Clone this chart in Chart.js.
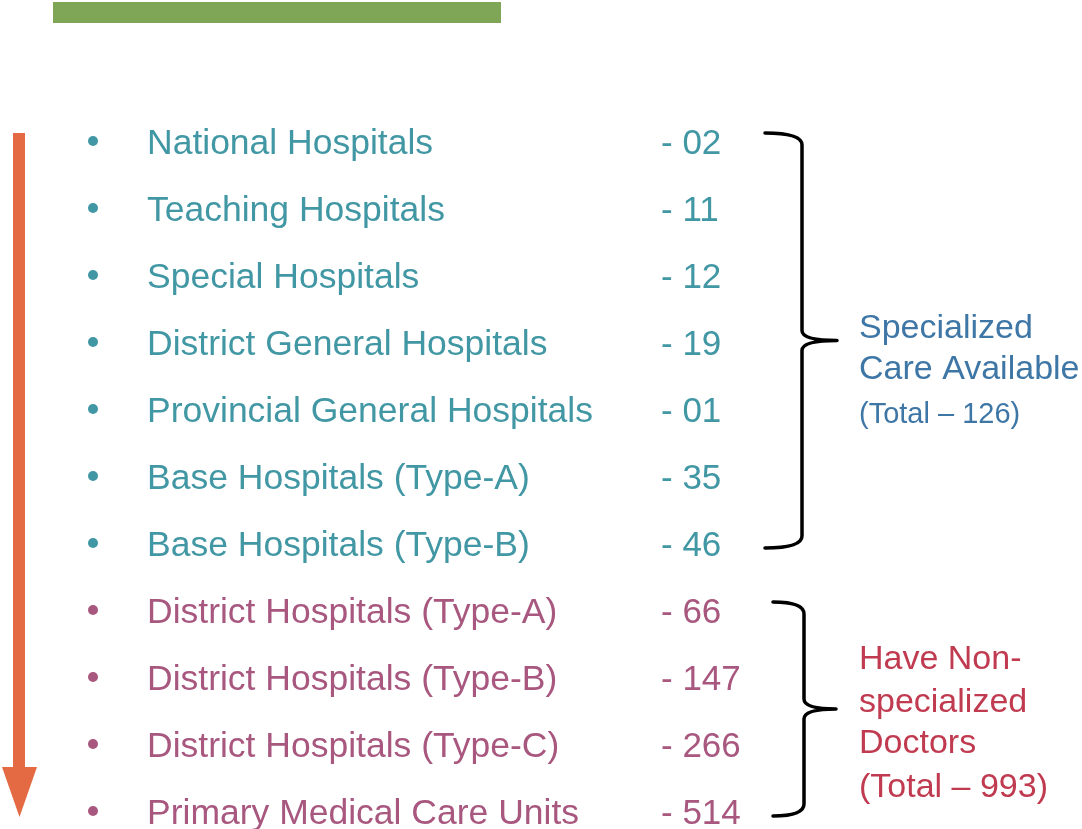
<!DOCTYPE html>
<html>
<head>
<meta charset="utf-8">
<script src="https://cdn.jsdelivr.net/npm/chart.js@4.4.1/dist/chart.umd.min.js"></script>
<style>
  html, body { margin: 0; padding: 0; background: #ffffff; }
  #wrap { width: 1082px; height: 829px; }
</style>
</head>
<body>
<div id="wrap"><canvas id="hospitalChart" width="1082" height="829"></canvas></div>
<script>
// categories (top to bottom) and their counts
const categories = [
  "National Hospitals",
  "Teaching Hospitals",
  "Special Hospitals",
  "District General Hospitals",
  "Provincial General Hospitals",
  "Base Hospitals (Type-A)",
  "Base Hospitals (Type-B)",
  "District Hospitals (Type-A)",
  "District Hospitals (Type-B)",
  "District Hospitals (Type-C)",
  "Primary Medical Care Units",
];
const counts = [2, 11, 12, 19, 1, 35, 46, 66, 147, 266, 514];
// 0 = specialized care, 1 = non-specialized doctors
const groupOf = [0, 0, 0, 0, 0, 0, 0, 1, 1, 1, 1];

const groupNotes = [
  ["Specialized", "Care Available", "(Total \u2013 126)"],
  ["Have Non-", "specialized", "Doctors", "(Total \u2013 993)"],
];

const rowColors = ["#4197a3", "#a8577f"];
const noteColors = ["#3e76a6", "#c03a50"];

const FONT = '"Liberation Sans", Arial, sans-serif';

function drawBrace(ctx, xStart, xLine, xTip, yTop, yBot) {
  const yMid = (yTop + yBot) / 2;
  ctx.beginPath();
  ctx.moveTo(xStart, yTop);
  ctx.quadraticCurveTo(xLine, yTop, xLine, yTop + 12);
  ctx.lineTo(xLine, yMid - 10);
  ctx.quadraticCurveTo(xLine, yMid, xTip, yMid);
  ctx.moveTo(xTip, yMid);
  ctx.quadraticCurveTo(xLine, yMid, xLine, yMid + 10);
  ctx.lineTo(xLine, yBot - 12);
  ctx.quadraticCurveTo(xLine, yBot, xStart, yBot);
  ctx.stroke();
  return yMid;
}

const listPlugin = {
  id: "listPlugin",
  afterDatasetsDraw(chart) {
    const ctx = chart.ctx;
    const yScale = chart.scales.y;
    ctx.save();

    // green header bar
    ctx.fillStyle = "#7fa656";
    ctx.fillRect(53, 2, 448, 21);

    // orange downward arrow
    const firstY = yScale.getPixelForValue(0);
    const lastY = yScale.getPixelForValue(categories.length - 1);
    ctx.fillStyle = "#e36a42";
    ctx.fillRect(13, firstY - 8, 12, lastY - firstY - 30);
    ctx.beginPath();
    ctx.moveTo(2, lastY - 44);
    ctx.lineTo(37, lastY - 44);
    ctx.lineTo(19.5, lastY + 6);
    ctx.closePath();
    ctx.fill();

    // labels and counts
    ctx.textBaseline = "alphabetic";
    ctx.textAlign = "left";
    categories.forEach((name, i) => {
      const y = yScale.getPixelForValue(i);
      ctx.fillStyle = rowColors[groupOf[i]];
      ctx.font = "35.5px " + FONT;
      ctx.fillText(name, 147, y + 12.5);
      ctx.font = "35px " + FONT;
      ctx.fillText("- " + String(counts[i]).padStart(2, "0"), 661, y + 12.5);
    });

    // braces and group notes
    ctx.strokeStyle = "#000000";
    ctx.lineWidth = 3.5;
    ctx.lineCap = "round";
    const braceX = [[765, 802, 837], [773, 804, 836]];
    const noteStart = [-3, -40];
    const noteGap = [[0, 41, 85], [0, 43, 84, 128]];
    const noteSize = [[34, 34, 29], [34, 34, 34, 34]];
    [0, 1].forEach((g) => {
      const idx = groupOf.map((v, i) => (v === g ? i : -1)).filter((i) => i >= 0);
      const yTop = yScale.getPixelForValue(idx[0]) - 8;
      const yBot = yScale.getPixelForValue(idx[idx.length - 1]) + 5;
      const bx = braceX[g];
      const yMid = drawBrace(ctx, bx[0], bx[1], bx[2], yTop, yBot);
      ctx.fillStyle = noteColors[g];
      groupNotes[g].forEach((line, k) => {
        ctx.font = noteSize[g][k] + "px " + FONT;
        ctx.fillText(line, 859, yMid + noteStart[g] + noteGap[g][k]);
      });
    });

    ctx.restore();
  },
};

new Chart(document.getElementById("hospitalChart"), {
  type: "scatter",
  data: {
    datasets: [
      {
        label: "Hospitals",
        data: categories.map((name, i) => ({ x: 0, y: name, count: counts[i] })),
        pointRadius: 5,
        pointHoverRadius: 5,
        pointBackgroundColor: groupOf.map((g) => rowColors[g]),
        pointBorderWidth: 0,
        clip: false,
      },
    ],
  },
  options: {
    responsive: false,
    animation: false,
    events: [],
    layout: { padding: { left: 93, right: 20, top: 141, bottom: 18 } },
    plugins: {
      legend: { display: false },
      tooltip: { enabled: false },
    },
    scales: {
      x: { type: "linear", min: 0, max: 1, display: false },
      y: { type: "category", labels: categories, offset: false, display: false },
    },
  },
  plugins: [listPlugin],
});
</script>
</body>
</html>
